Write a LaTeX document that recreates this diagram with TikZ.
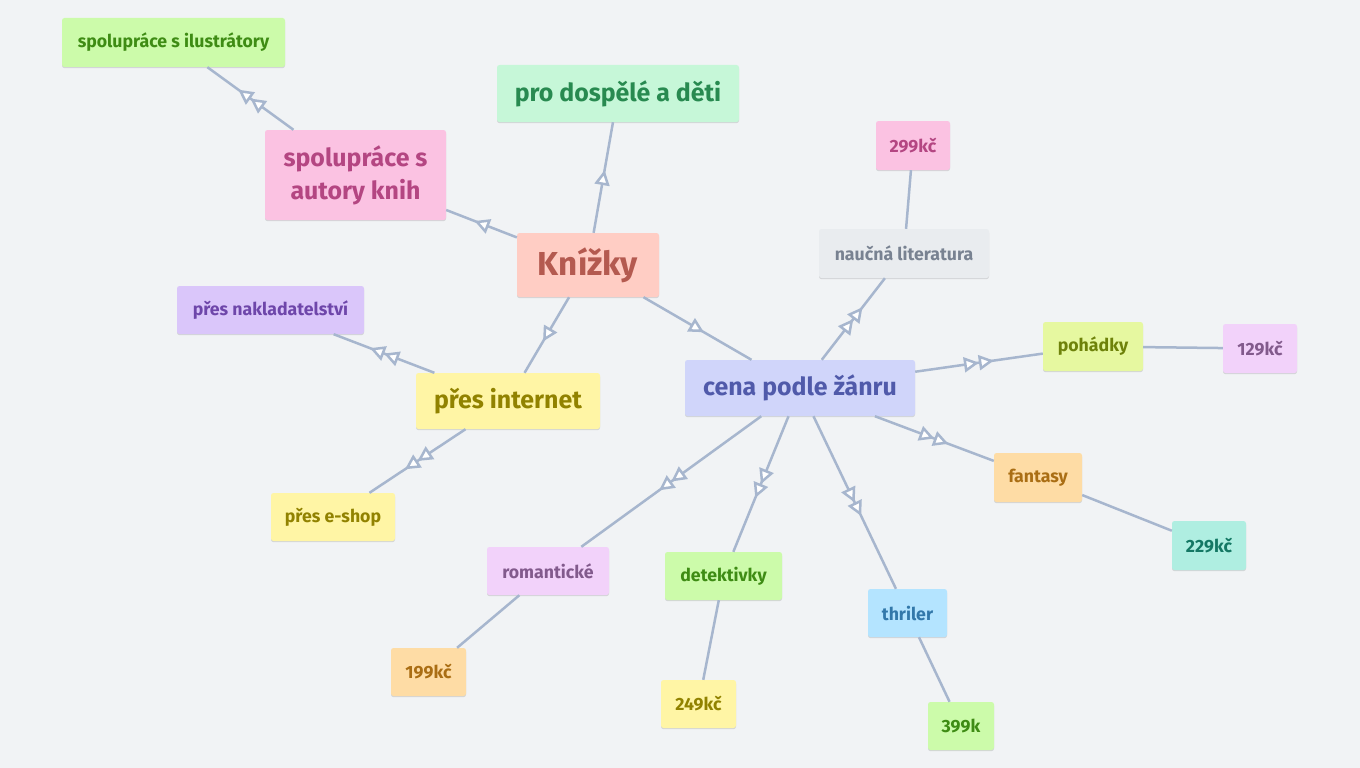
\documentclass[tikz,border=0pt]{standalone}
\usepackage{fontspec}
\newfontfamily\lblfont{Fira Sans Bold}
\usetikzlibrary{arrows.meta,decorations.markings,shadows}
\definecolor{bg}{RGB}{241,243,245}
\definecolor{ln}{RGB}{167,182,206}
\definecolor{fgreen}{RGB}{204,251,170}\definecolor{tgreen}{RGB}{62,140,20}
\definecolor{fmint}{RGB}{198,247,216}\definecolor{tmint}{RGB}{40,138,80}
\definecolor{fpink}{RGB}{251,194,226}\definecolor{tpink}{RGB}{180,70,130}
\definecolor{fsalmon}{RGB}{255,205,196}\definecolor{tsalmon}{RGB}{180,90,80}
\definecolor{fgrey}{RGB}{233,236,239}\definecolor{tgrey}{RGB}{120,130,145}
\definecolor{flime}{RGB}{230,248,160}\definecolor{tlime}{RGB}{110,130,10}
\definecolor{flilac}{RGB}{242,210,250}\definecolor{tlilac}{RGB}{130,90,140}
\definecolor{fpurple}{RGB}{218,198,250}\definecolor{tpurple}{RGB}{110,70,170}
\definecolor{fyellow}{RGB}{255,245,165}\definecolor{tyellow}{RGB}{145,130,0}
\definecolor{fblue}{RGB}{208,213,250}\definecolor{tblue}{RGB}{80,90,170}
\definecolor{forange}{RGB}{254,220,165}\definecolor{torange}{RGB}{170,110,20}
\definecolor{fteal}{RGB}{175,238,225}\definecolor{tteal}{RGB}{20,120,100}
\definecolor{fsky}{RGB}{180,228,255}\definecolor{tsky}{RGB}{50,120,170}
\tikzset{
  bx/.style 2 args={fill=#1, text=#2, rounded corners=2.5pt, inner sep=0pt,
    align=center, font=\lblfont,
    drop shadow={shadow xshift=0pt, shadow yshift=-1.2pt, opacity=0.12, fill=black}},
  sz/.style 2 args={minimum width=#1pt, minimum height=#2pt},
  small/.style={font=\lblfont\fontsize{17.7}{21}\selectfont},
  big/.style={font=\lblfont\fontsize{24.9}{33}\selectfont},
  rootfont/.style={font=\lblfont\fontsize{33.2}{38}\selectfont},
  link/.style={draw=ln, line width=2.5pt},
  linkone/.style={link, postaction={decorate},
    decoration={markings, mark=at position 0.5 with {\arrow[xshift=7.5pt,ln]{Triangle[length=15pt,width=15pt,line width=2.5pt,fill=white]}}}},
  linktwo/.style={link, postaction={decorate},
    decoration={markings, mark=at position 0.5 with {\arrow[xshift=15pt,ln]{Triangle[length=15pt,width=15pt,line width=2.5pt,fill=white]Triangle[length=15pt,width=15pt,line width=2.5pt,fill=white]}}}},
}
\begin{document}
\begin{tikzpicture}[x=1pt,y=-1pt]
\fill[bg] (0,0) rectangle (1360,768);
\useasboundingbox (0,0) rectangle (1360,768);
% nodes
\node[bx={fsalmon}{tsalmon}, sz={142}{64}, rootfont] (root) at (588,265) {Knížky};
\node[bx={fpink}{tpink}, sz={181}{90}, big] (autory) at (355.5,175) {spolupráce s\\autory knih};
\node[bx={fmint}{tmint}, sz={242}{57}, big] (dosp) at (618,93.5) {pro dospělé a děti};
\node[bx={fyellow}{tyellow}, sz={184}{56}, big] (internet) at (508,401) {přes internet};
\node[bx={fblue}{tblue}, sz={230}{56}, big] (cena) at (800,388) {cena podle žánru};
\node[bx={fgreen}{tgreen}, sz={223}{49}, small] (ilu) at (173.5,42.5) {spolupráce s ilustrátory};
\node[bx={fpurple}{tpurple}, sz={187}{48}, small] (naklad) at (270.5,310) {přes nakladatelství};
\node[bx={fyellow}{tyellow}, sz={124}{48}, small] (eshop) at (333,517) {přes e-shop};
\node[bx={fgrey}{tgrey}, sz={170}{49}, small] (naucna) at (904,253.5) {naučná literatura};
\node[bx={fpink}{tpink}, sz={74}{49}, small] (c299) at (913,145.5) {299kč};
\node[bx={flime}{tlime}, sz={100}{49}, small] (pohadky) at (1093,346.5) {pohádky};
\node[bx={flilac}{tlilac}, sz={74}{49}, small] (c129) at (1260,348.5) {129kč};
\node[bx={forange}{torange}, sz={88}{49}, small] (fantasy) at (1038,477.5) {fantasy};
\node[bx={fteal}{tteal}, sz={74}{49}, small] (c229) at (1209,545.5) {229kč};
\node[bx={fsky}{tsky}, sz={79}{48}, small] (thriler) at (907.5,613) {thriler};
\node[bx={fgreen}{tgreen}, sz={66}{48}, small] (c399) at (961,726) {399k};
\node[bx={fgreen}{tgreen}, sz={117}{48}, small] (detekt) at (723.5,576) {detektivky};
\node[bx={fyellow}{tyellow}, sz={75}{48}, small] (c249) at (698.5,704) {249kč};
\node[bx={flilac}{tlilac}, sz={122}{48}, small] (romant) at (548,571) {romantické};
\node[bx={forange}{torange}, sz={75}{48}, small] (c199) at (428.5,672) {199kč};
% connectors
\draw[linkone] (root) -- (autory);
\draw[linkone] (root) -- (dosp);
\draw[linkone] (root) -- (internet);
\draw[linkone] (root) -- (cena);
\draw[linktwo] (autory) -- (ilu);
\draw[linktwo] (internet) -- (naklad);
\draw[linktwo] (internet) -- (eshop);
\draw[linktwo] (cena) -- (naucna);
\draw[linktwo] (cena) -- (pohadky);
\draw[linktwo] (cena) -- (fantasy);
\draw[linktwo] (cena) -- (thriler);
\draw[linktwo] (cena) -- (detekt);
\draw[linktwo] (cena) -- (romant);
\draw[link] (naucna) -- (c299);
\draw[link] (pohadky) -- (c129);
\draw[link] (fantasy) -- (c229);
\draw[link] (thriler) -- (c399);
\draw[link] (detekt) -- (c249);
\draw[link] (romant) -- (c199);
\end{tikzpicture}
\end{document}
